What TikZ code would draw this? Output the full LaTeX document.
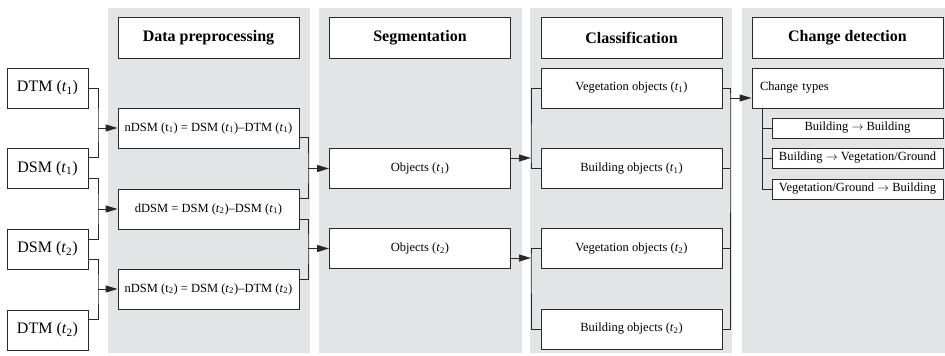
\documentclass[tikz,border=0pt]{standalone}
\usepackage{fontspec}
\setmainfont{Liberation Serif}
\usepackage{tikz}
\usetikzlibrary{positioning,calc,arrows.meta}

\definecolor{panelgray}{RGB}{227,228,230}
\definecolor{boxline}{RGB}{40,40,40}

\newcommand{\tsub}[1]{(\textit{t}\textsubscript{#1})}
\newcommand{\tup}[1]{(t\textsubscript{#1})}

\tikzset{
  panel/.style={fill=panelgray, draw=none},
  headbox/.style={draw=boxline, fill=white, line width=0.9pt, minimum width=181pt, minimum height=41pt, font=\fontsize{16}{18}\selectfont\bfseries},
  inbox/.style={draw=boxline, fill=white, line width=0.9pt, minimum width=81pt, minimum height=40pt, font=\fontsize{16}{18}\selectfont},
  procbox/.style={draw=boxline, fill=white, line width=0.9pt, minimum width=181pt, minimum height=40pt, font=\fontsize{12.5}{14}\selectfont},
  typebox/.style={draw=boxline, fill=white, line width=0.9pt, minimum width=171pt, minimum height=20pt, inner sep=1pt, font=\fontsize{12.5}{14}\selectfont},
  conn/.style={draw=boxline, line width=0.9pt},
  arr/.style={conn, -{Triangle[length=12pt,width=7pt]}},
}

\begin{document}
\begin{tikzpicture}[x=1pt,y=-1pt]
    \useasboundingbox (0,0) rectangle (945,356);
    % Panels
    \fill[panel] (108,8) rectangle (310,353);
    \fill[panel] (319,8) rectangle (522,353);
    \fill[panel] (530,8) rectangle (732,353);
    \fill[panel] (742,8) rectangle (945,353);

    % Headers
    \node[headbox] (hPre) at (208.5,37.5) {Data preprocessing};
    \node[headbox] (hSeg) at (420,37.5) {Segmentation};
    \node[headbox] (hCls) at (631.5,37.5) {Classification};
    \node[headbox, minimum width=191pt] (hChg) at (847.5,37.5) {Change detection};

    % Inputs
    \node[inbox] (dtmA) at (47.5,88) {DTM \tsub{1}};
    \node[inbox] (dsmA) at (47.5,168.5) {DSM \tsub{1}};
    \node[inbox] (dsmB) at (47.5,249) {DSM \tsub{2}};
    \node[inbox] (dtmB) at (47.5,330) {DTM \tsub{2}};

    % Data preprocessing
    \node[procbox] (preA) at (208.5,128) {nDSM \tup{1} = DSM \tsub{1}--DTM \tsub{1}};
    \node[procbox] (preB) at (208.5,209) {dDSM = DSM \tsub{2}--DSM \tsub{1}};
    \node[procbox] (preC) at (208.5,289) {nDSM \tup{2} = DSM \tsub{2}--DTM \tsub{2}};

    % Segmentation
    \node[procbox] (segA) at (420,168.5) {Objects \tsub{1}};
    \node[procbox] (segB) at (420,248.5) {Objects \tsub{2}};

    % Classification
    \node[procbox] (vegA) at (631.5,88) {Vegetation objects \tsub{1}};
    \node[procbox] (bldA) at (631.5,168.5) {Building objects \tsub{1}};
    \node[procbox] (vegB) at (631.5,248.5) {Vegetation objects \tsub{2}};
    \node[procbox] (bldB) at (631.5,329) {Building objects \tsub{2}};

    % Change detection
    \node[procbox, minimum width=191pt, text width=175pt, align=left] (types) at (847.5,88) {Change types};
    \node[typebox] (tyA) at (857.5,128) {Building $\rightarrow$ Building};
    \node[typebox] (tyB) at (857.5,158) {Building $\rightarrow$ Vegetation/Ground};
    \node[typebox] (tyC) at (857.5,189) {Vegetation/Ground $\rightarrow$ Building};

    % Inputs -> preprocessing
    \coordinate (jA) at (98,128);
    \draw[conn] (dtmA.east) -| (jA) |- ($(dsmA.east)+(0,-11.5)$);
    \draw[arr] (jA) -- (preA.west);
    \coordinate (jB) at (98,209);
    \draw[conn] ($(dsmA.east)+(0,9.5)$) -| (jB) |- ($(dsmB.east)+(0,-10)$);
    \draw[arr] (jB) -- (preB.west);
    \coordinate (jC) at (98,289);
    \draw[conn] ($(dsmB.east)+(0,10)$) -| (jC) |- ($(dtmB.east)+(0,-11)$);
    \draw[arr] (jC) -- (preC.west);

    % Preprocessing -> segmentation
    \coordinate (jD) at (308,168.5);
    \draw[conn] ($(preA.east)+(0,9)$) -| (jD) |- ($(preB.east)+(0,-11)$);
    \draw[arr] (jD) -- (segA.west);
    \coordinate (jE) at (308,248.5);
    \draw[conn] ($(preB.east)+(0,10)$) -| (jE) |- ($(preC.east)+(0,-10)$);
    \draw[arr] (jE) -- (segB.west);

    % Segmentation -> classification
    \coordinate (jF) at (531,158);
    \draw[arr] ($(segA.east)+(0,-10.5)$) -- (jF);
    \draw[conn] (vegA.west) -| (jF) |- (bldA.west);
    \coordinate (jG) at (531,258);
    \draw[arr] ($(segB.east)+(0,9.5)$) -- (jG);
    \draw[conn] (vegB.west) -| (jG) |- (bldB.west);

    % Classification -> change detection
    \coordinate (jH) at (730,98);
    \draw[conn] (vegA.east) -| (jH) |- (bldB.east);
    \draw[conn] (bldA.east) -- (bldA.east -| jH);
    \draw[conn] (vegB.east) -- (vegB.east -| jH);
    \draw[arr] (jH) -- ($(types.west)+(0,10)$);

    % Change types
    \coordinate (jI) at ($(types.south west)+(11,0)$);
    \draw[conn] (jI) |- (tyC.west);
    \draw[conn] (tyA.west) -- (tyA.west -| jI);
    \draw[conn] (tyB.west) -- (tyB.west -| jI);
\end{tikzpicture}
\end{document}
